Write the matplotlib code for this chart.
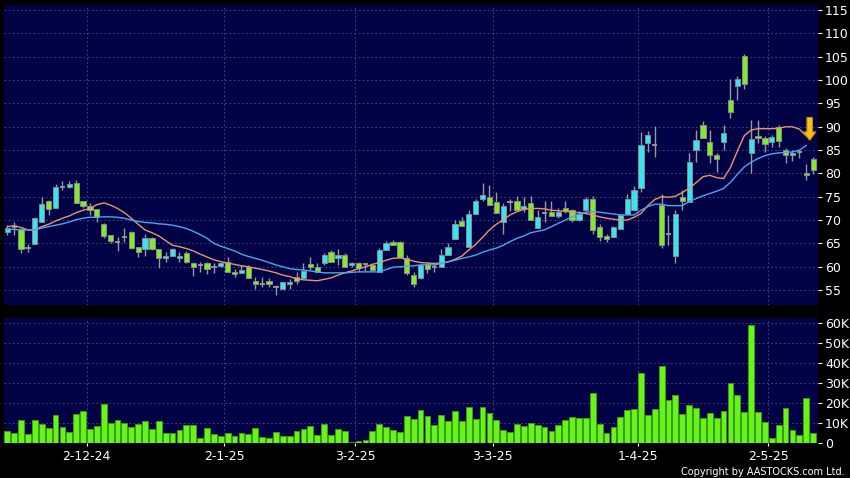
import numpy as np
import matplotlib
matplotlib.use("Agg")
from matplotlib import pyplot as plt
from matplotlib.patches import Rectangle, Polygon

# daily candles, 14-11-24 .. 13-5-25 (trading days only)
opens = [67.5, 68.5, 68.0, 64.1, 64.9, 69.6, 74.0, 72.5, 77.1, 77.1,
         78.0, 74.0, 73.1, 72.4, 69.1, 66.9, 65.4, 66.4, 67.4, 64.3,
         63.9, 66.1, 63.7, 61.8, 62.4, 61.8, 62.9, 60.9, 60.4, 60.7,
         60.0, 60.1, 61.1, 58.9, 58.6, 60.0, 57.0, 56.4, 57.0, 55.6,
         55.2, 56.2, 57.9, 57.5, 60.5, 60.0, 60.9, 63.2, 61.8, 62.6,
         60.4, 60.9, 60.5, 60.4, 58.9, 63.6, 65.4, 65.2, 61.8, 58.2,
         57.5, 60.6, 59.9, 59.9, 62.5, 65.9, 69.9, 64.2, 71.4, 74.6,
         74.9, 73.8, 69.6, 73.8, 74.1, 72.3, 73.7, 68.2, 71.6, 71.8,
         70.9, 72.7, 72.1, 70.1, 72.1, 74.6, 68.6, 66.6, 66.4, 68.1,
         71.3, 72.1, 76.8, 86.6, 86.2, 73.2, 67.1, 62.4, 75.0, 73.9,
         85.1, 90.4, 86.8, 83.9, 86.8, 95.7, 98.7, 105.1, 84.3, 88.1,
         87.5, 86.8, 90.0, 85.1, 83.9, 84.5, 80.0, 83.1]
closes = [68.2, 68.5, 63.9, 64.1, 70.4, 73.4, 72.3, 77.0, 77.1, 77.7,
          73.6, 73.0, 72.1, 70.7, 66.6, 65.6, 65.4, 66.4, 64.0, 63.2,
          66.1, 63.7, 61.8, 62.3, 63.7, 62.4, 61.0, 60.0, 60.4, 59.5,
          60.0, 60.7, 58.8, 58.4, 59.4, 57.5, 56.2, 56.4, 56.2, 55.6,
          56.8, 56.7, 57.0, 59.1, 59.9, 58.8, 62.6, 61.1, 62.6, 59.9,
          60.9, 59.7, 60.5, 59.3, 63.6, 65.0, 64.6, 62.1, 58.6, 56.2,
          60.4, 59.5, 59.9, 62.5, 64.2, 69.1, 68.7, 71.4, 74.0, 75.4,
          73.2, 71.6, 73.0, 73.8, 72.1, 73.0, 70.0, 70.7, 71.6, 70.9,
          71.8, 71.9, 70.0, 71.4, 74.6, 67.9, 66.4, 65.9, 68.6, 71.1,
          74.6, 76.4, 86.1, 88.2, 86.2, 64.6, 67.1, 71.4, 74.1, 82.4,
          87.1, 87.6, 83.9, 83.0, 88.6, 93.1, 100.2, 99.1, 87.3, 87.5,
          86.4, 87.9, 87.0, 83.9, 84.3, 84.5, 79.6, 80.7]
highs = [68.9, 69.6, 68.3, 64.9, 70.7, 74.9, 74.4, 77.7, 78.4, 78.4,
         78.7, 74.2, 73.6, 72.4, 69.3, 66.9, 66.4, 68.4, 67.6, 64.3,
         67.1, 66.4, 63.7, 63.2, 64.0, 63.2, 63.3, 61.0, 61.1, 61.1,
         60.8, 61.1, 62.0, 59.5, 60.4, 60.3, 57.9, 57.9, 57.5, 56.1,
         56.8, 57.3, 58.8, 60.9, 62.1, 60.7, 63.0, 63.6, 63.9, 63.0,
         61.1, 61.1, 60.7, 60.7, 64.0, 65.5, 65.8, 65.5, 62.5, 58.9,
         60.6, 61.1, 60.7, 63.9, 65.0, 70.0, 70.7, 72.1, 74.6, 77.9,
         77.5, 76.0, 73.6, 74.6, 75.2, 75.0, 75.2, 72.1, 74.2, 74.1,
         72.5, 74.0, 72.4, 72.0, 74.9, 75.2, 69.2, 67.1, 68.8, 71.4,
         75.6, 77.3, 88.9, 89.0, 90.1, 75.5, 71.1, 72.1, 76.5, 84.3,
         89.4, 91.3, 89.4, 84.3, 90.3, 100.2, 100.9, 105.6, 91.5, 91.5,
         88.0, 88.3, 90.3, 85.5, 85.1, 85.1, 82.0, 83.5]
lows = [66.8, 66.8, 63.0, 63.2, 64.9, 69.6, 71.1, 72.5, 76.4, 76.8,
        73.6, 72.5, 71.1, 69.6, 66.1, 65.1, 63.4, 65.4, 63.7, 62.1,
        62.4, 63.5, 59.7, 61.1, 62.2, 61.1, 60.8, 58.1, 58.9, 58.4,
        58.6, 60.0, 58.8, 57.7, 58.6, 57.5, 55.2, 55.7, 55.7, 53.9,
        55.2, 55.2, 56.2, 57.5, 59.3, 58.8, 60.4, 61.1, 60.4, 59.9,
        59.9, 59.0, 59.0, 59.0, 58.9, 63.6, 64.6, 62.1, 58.2, 55.7,
        57.3, 58.6, 58.9, 59.9, 62.5, 65.9, 68.7, 64.2, 71.4, 74.0,
        73.2, 71.6, 67.1, 72.0, 72.1, 71.8, 70.0, 68.2, 69.6, 70.9,
        70.5, 71.5, 69.6, 69.8, 72.0, 67.0, 65.6, 65.4, 66.4, 68.1,
        71.3, 72.1, 76.0, 84.5, 83.6, 64.0, 64.6, 60.7, 72.2, 73.9,
        82.5, 87.6, 82.3, 80.4, 85.0, 91.8, 95.7, 98.0, 80.0, 86.6,
        84.6, 85.6, 85.6, 82.3, 82.6, 83.4, 78.6, 79.9]
volume_k = [6.0, 4.8, 11.5, 4.5, 11.5, 9.4, 7.7, 13.9, 8.0, 5.5,
            14.4, 16.2, 6.9, 8.7, 19.6, 9.9, 11.5, 9.9, 8.0, 9.4,
            11.0, 7.2, 11.0, 4.8, 5.2, 6.5, 9.0, 8.9, 2.5, 7.4,
            4.3, 3.3, 5.0, 3.7, 5.0, 4.5, 7.4, 3.2, 2.5, 5.5,
            3.5, 3.3, 5.9, 7.2, 8.5, 4.0, 9.5, 3.8, 7.2, 6.0,
            0.3, 1.2, 1.5, 6.0, 9.7, 7.9, 6.5, 5.5, 13.5, 12.2,
            16.6, 13.5, 9.0, 13.9, 10.9, 16.2, 11.2, 18.2, 11.9, 18.2,
            14.9, 11.5, 6.5, 5.7, 9.5, 8.4, 9.9, 8.9, 7.9, 5.9,
            9.2, 11.5, 12.9, 12.7, 12.4, 24.9, 9.5, 5.2, 7.9, 12.9,
            16.6, 17.1, 34.9, 13.9, 16.9, 38.6, 21.6, 24.1, 14.5, 19.2,
            17.7, 12.4, 14.9, 12.4, 16.2, 29.9, 24.1, 15.4, 59.2, 15.7,
            10.4, 2.7, 9.0, 17.7, 6.4, 4.0, 22.4, 4.8]
ma10 = [68.6, 68.8, 68.4, 67.9, 67.9, 68.6, 69.1, 69.8, 70.4, 70.9,
        71.6, 72.1, 72.5, 73.3, 73.7, 73.2, 72.5, 71.6, 70.4, 69.1,
        67.9, 67.3, 66.6, 65.6, 64.6, 64.3, 63.9, 63.4, 62.7, 62.1,
        61.5, 61.1, 60.8, 60.5, 60.2, 60.0, 59.7, 59.4, 59.1, 58.7,
        58.2, 57.9, 57.4, 57.2, 57.1, 57.0, 57.3, 57.6, 58.2, 58.7,
        59.1, 59.6, 60.0, 60.5, 60.9, 61.4, 61.8, 61.9, 61.6, 61.2,
        60.9, 60.8, 60.7, 60.8, 61.0, 61.6, 62.3, 63.6, 64.8, 66.3,
        67.9, 69.1, 70.1, 71.1, 71.8, 72.3, 72.5, 72.5, 72.4, 72.1,
        72.0, 71.9, 71.7, 71.6, 71.4, 71.1, 70.7, 70.4, 70.2, 70.0,
        70.0, 70.6, 71.4, 73.1, 74.4, 75.0, 74.9, 75.1, 75.9, 76.8,
        78.0, 79.3, 79.6, 79.1, 78.9, 81.3, 84.8, 88.1, 89.3, 89.6,
        89.6, 89.6, 89.7, 90.0, 90.0, 89.5, 88.0]
ma20 = [68.0, 68.0, 67.9, 67.9, 67.9, 68.3, 68.6, 68.9, 69.2, 69.6,
        70.1, 70.4, 70.6, 70.6, 70.7, 70.7, 70.6, 70.4, 70.0, 69.7,
        69.5, 69.4, 69.2, 69.1, 68.9, 68.6, 68.2, 67.6, 66.9, 66.1,
        65.0, 64.4, 63.9, 63.4, 62.7, 62.2, 61.8, 61.4, 60.9, 60.4,
        60.0, 59.6, 59.4, 59.3, 59.1, 58.9, 58.7, 58.7, 58.7, 58.7,
        58.8, 58.9, 58.9, 58.9, 58.9, 59.4, 59.9, 60.0, 60.1, 60.2,
        60.4, 60.4, 60.4, 60.7, 61.1, 61.4, 61.8, 62.1, 62.5, 63.1,
        63.6, 64.0, 64.6, 65.4, 66.1, 66.6, 67.3, 67.6, 67.9, 68.6,
        69.3, 70.0, 70.7, 71.2, 71.7, 71.8, 71.7, 71.5, 71.3, 71.1,
        71.1, 71.1, 72.1, 72.9, 73.4, 73.4, 73.1, 73.1, 73.1, 74.0,
        74.6, 75.2, 75.7, 76.2, 76.8, 78.1, 79.8, 81.4, 82.4, 83.2,
        83.8, 84.2, 84.4, 84.5, 84.6, 85.0, 86.0]

month_labels = ['2-12-24', '2-1-25', '3-2-25', '3-3-25', '1-4-25', '2-5-25']
month_first_bar = [12, 32, 51, 71, 92, 111]

BG = '#010146'
GRID = '#4e4e8c'
GRID_LS = (0, (2, 3))
UP = '#38e4f2'
DOWN = '#80ea2c'
WICK = '#9a9a9a'

fig = plt.figure(figsize=(8.5, 4.78), dpi=100, facecolor='black')
ax = fig.add_axes([0.0047, 0.3619, 0.9576, 0.6276], facecolor=BG)
axv = fig.add_axes([0.0047, 0.0732, 0.9576, 0.2615], facecolor=BG)

n = len(opens)
idx = np.arange(n)
bw = 0.76

for i in range(n):
    o, c, h, l = opens[i], closes[i], highs[i], lows[i]
    ax.vlines(i, l, h, color=WICK, lw=1, zorder=3)
    if abs(c - o) < 0.05:
        ax.hlines(o, i - bw / 2, i + bw / 2, color=WICK, lw=1.3, zorder=4)
    else:
        col = UP if c > o else DOWN
        ax.add_patch(Rectangle((i - bw / 2, min(o, c)), bw, abs(c - o),
                               facecolor=col, edgecolor='#8a8a8a', lw=0.7, zorder=4))

ma_x = idx[:len(ma10)]
ax.plot(ma_x, ma10, color='#e8956a', lw=1.0, zorder=5)
ax.plot(ma_x, ma20, color='#4aa6ee', lw=1.0, zorder=5)

# yellow arrow marker
ax.add_patch(Polygon([(116.1, 92.0), (116.9, 92.0), (116.9, 88.9), (117.4, 88.9),
                      (116.5, 87.1), (115.6, 88.9), (116.1, 88.9)],
                     closed=True, facecolor='#f7c21a', edgecolor='#c98a00',
                     lw=0.8, zorder=6))

axv.bar(idx, volume_k, width=0.84, color='#66f41a', edgecolor='#3d9a12', lw=0.7, zorder=3)

for a in (ax, axv):
    a.set_xlim(-0.48, 117.7)
    for b in month_first_bar:
        a.axvline(b - 0.5, color=GRID, lw=0.6, ls=GRID_LS, zorder=1)
    a.yaxis.tick_right()
    a.tick_params(axis='y', colors='white', labelsize=9, length=3, width=0.8, pad=2)
    for s in a.spines.values():
        s.set_visible(False)

ax.set_ylim(51.8, 116.1)
ax.set_yticks(np.arange(55, 116, 5))
ax.set_xticks([])
for v in range(55, 116, 5):
    ax.axhline(v, color=GRID, lw=0.6, ls=GRID_LS, zorder=1)

axv.set_ylim(0, 62.5)
axv.set_yticks(np.arange(0, 61, 10))
axv.set_yticklabels(['0'] + ['%dK' % v for v in range(10, 61, 10)])
for v in range(10, 61, 10):
    axv.axhline(v, color=GRID, lw=0.6, ls=GRID_LS, zorder=1)
axv.set_xticks([b - 0.5 for b in month_first_bar])
axv.set_xticklabels(month_labels)
axv.tick_params(axis='x', colors='white', labelsize=9, length=2, width=0.8, pad=3)

fig.text(0.994, 0.003, 'Copyright by AASTOCKS.com Ltd.', color='white',
         fontsize=7, ha='right', va='bottom')

fig.savefig('out.png', dpi=100, facecolor='black')
